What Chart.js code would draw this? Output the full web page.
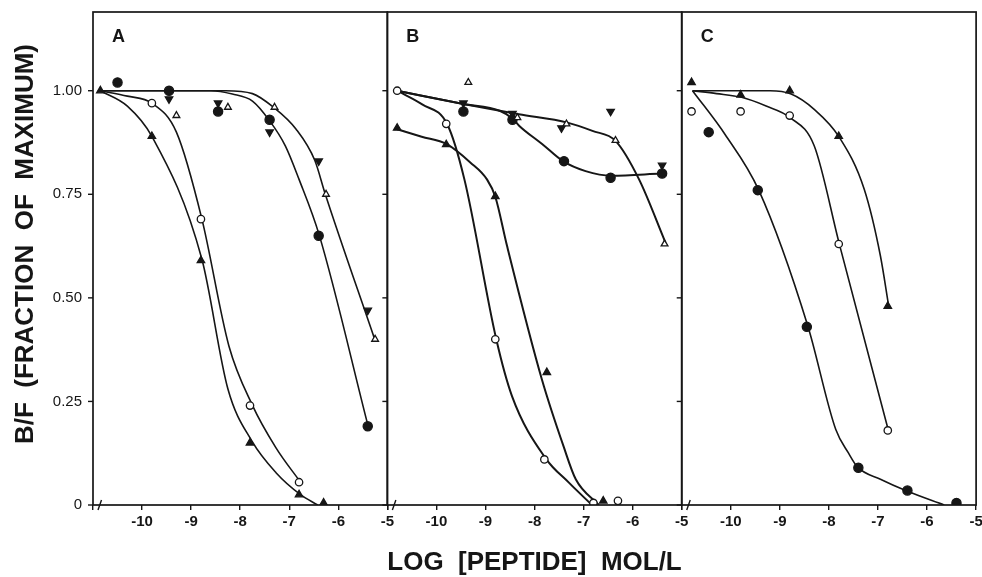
<!DOCTYPE html>
<html><head><meta charset="utf-8">
<script src="https://cdn.jsdelivr.net/npm/chart.js@4.4.0/dist/chart.umd.min.js"></script>
<style>html,body{margin:0;padding:0;background:#fff;} #wrap{position:relative;width:982px;height:577px;}</style>
</head><body><div id="wrap"><canvas id="c" width="982" height="577"></canvas></div>
<script>
// ---------- tick values / labels ----------
const panelNames = ['A', 'B', 'C'];
const xMin = -11, xMax = -5;
const xTickValues = [-11, -10, -9, -8, -7, -6, -5];
const yTickValues = [0, 0.25, 0.5, 0.75, 1.0];
const yTickLabels = ['0', '0.25', '0.50', '0.75', '1.00'];
const yMax = 1.19;
const yTitle = '    B/F  (FRACTION  OF  MAXIMUM)';
const xTitle = 'LOG  [PEPTIDE]  MOL/L';

// ---------- panel A: measured points [log conc, B/F] ----------
const A_filledTri   = [[-10.85,1.00],[-9.8,0.89],[-8.8,0.59],[-7.8,0.15],[-6.8,0.025],[-6.3,0.005]];
const A_openCircle  = [[-9.8,0.97],[-8.8,0.69],[-7.8,0.24],[-6.8,0.055]];
const A_filledCircle= [[-10.5,1.02],[-9.45,1.00],[-8.45,0.95],[-7.4,0.93],[-6.4,0.65],[-5.4,0.19]];
const A_invTri      = [[-9.45,0.98],[-8.45,0.97],[-7.4,0.90],[-6.4,0.83],[-5.4,0.47]];
const A_openTri     = [[-9.3,0.94],[-8.25,0.96],[-7.3,0.96],[-6.25,0.75],[-5.25,0.40]];
// panel A: hand-drawn curves (knots)
const A_curve1 = [[-10.85,1.0],[-10.3,0.963],[-9.8,0.89],[-8.78,0.593],[-8.25,0.28],[-7.76,0.154],[-7.27,0.078],[-6.77,0.025],[-6.42,0.0]];
const A_curve2 = [[-10.85,1.0],[-10.3,0.987],[-9.8,0.97],[-9.3,0.90],[-8.78,0.69],[-8.23,0.384],[-7.76,0.243],[-7.27,0.138],[-6.77,0.055]];
const A_curve3 = [[-10.85,1.0],[-8.6,1.0],[-8.16,0.992],[-7.75,0.975],[-7.41,0.929],[-7.08,0.867],[-6.80,0.786],[-6.39,0.652],[-5.40,0.194]];
const A_curve4 = [[-10.85,1.0],[-8.3,1.0],[-7.75,0.993],[-7.31,0.959],[-6.86,0.907],[-6.48,0.832],[-6.27,0.752],[-5.27,0.404]];

// ---------- panel B ----------
const B_openCircle  = [[-10.8,1.00],[-9.8,0.92],[-8.8,0.40],[-7.8,0.11],[-6.8,0.005],[-6.3,0.01]];
const B_filledTri   = [[-10.8,0.91],[-9.8,0.87],[-8.8,0.745],[-7.75,0.32],[-6.6,0.01]];
const B_openTri     = [[-9.35,1.02],[-8.35,0.935],[-7.35,0.92],[-6.35,0.88],[-5.35,0.63]];
const B_invTri      = [[-9.45,0.97],[-8.45,0.945],[-7.45,0.91],[-6.45,0.95],[-5.4,0.82]];
const B_filledCircle= [[-9.45,0.95],[-8.45,0.93],[-7.4,0.83],[-6.45,0.79],[-5.4,0.80]];
const B_curve1 = [[-10.8,1.0],[-9.45,0.968],[-8.32,0.943],[-7.33,0.923],[-6.82,0.903],[-6.35,0.879],[-5.87,0.786],[-5.33,0.633]];
const B_curve2 = [[-10.8,1.0],[-9.45,0.968],[-8.7,0.951],[-8.44,0.932],[-8.31,0.915],[-7.84,0.871],[-7.42,0.83],[-6.96,0.806],[-6.43,0.795],[-5.42,0.80]];
const B_curve3 = [[-10.8,1.0],[-10.29,0.967],[-9.78,0.919],[-9.43,0.786],[-8.78,0.40],[-8.46,0.263],[-7.77,0.112],[-7.3,0.054],[-6.83,0.0]];
const B_curve4 = [[-10.8,0.907],[-10.3,0.889],[-9.79,0.871],[-9.31,0.827],[-8.97,0.786],[-8.80,0.744],[-8.56,0.625],[-7.85,0.303],[-7.41,0.142],[-7.16,0.062],[-6.69,0.0]];

// ---------- panel C ----------
const C_filledTri   = [[-10.8,1.02],[-9.8,0.99],[-8.8,1.00],[-7.8,0.89],[-6.8,0.48]];
const C_openCircle  = [[-10.8,0.95],[-9.8,0.95],[-8.8,0.94],[-7.8,0.63],[-6.8,0.18]];
const C_filledCircle= [[-10.45,0.90],[-9.45,0.76],[-8.45,0.43],[-7.4,0.09],[-6.4,0.035],[-5.4,0.005]];
const C_curve1 = [[-10.78,1.0],[-10.12,0.895],[-9.43,0.76],[-8.43,0.432],[-7.86,0.182],[-7.6,0.125],[-7.42,0.092],[-6.95,0.062],[-6.40,0.033],[-5.65,0.0]];
const C_curve2 = [[-10.78,1.0],[-10.29,0.993],[-9.78,0.984],[-9.28,0.963],[-8.79,0.935],[-8.30,0.867],[-7.79,0.631],[-6.79,0.181]];
const C_curve3 = [[-10.78,1.0],[-9.2,1.0],[-8.77,0.992],[-8.30,0.955],[-7.79,0.888],[-7.28,0.762],[-6.95,0.601],[-6.78,0.479]];

// ---------- styling helpers ----------
const INK = '#161616';
const markerStyles = {
  filledCircle: {pointStyle:'circle', radius:4.6, fill:INK, rot:0},
  openCircle:   {pointStyle:'circle', radius:3.7, fill:'#fff', rot:0},
  filledTri:    {pointStyle:'triangle', radius:4.3, fill:INK, rot:0},
  openTri:      {pointStyle:'triangle', radius:3.9, fill:'#fff', rot:0},
  invTri:       {pointStyle:'triangle', radius:4.3, fill:INK, rot:180}
};
const toXY = arr => arr.map(p => ({x: p[0], y: p[1]}));
function markers(arr, axis, kind) {
  const s = markerStyles[kind];
  return {type:'line', data: toXY(arr), xAxisID: axis, showLine:false, order:0,
    pointStyle:s.pointStyle, pointRadius:s.radius, pointRotation:s.rot,
    pointBackgroundColor:s.fill, pointBorderColor:INK, pointBorderWidth:1.3, pointHoverRadius:s.radius};
}
function curve(arr, axis, w) {
  return {type:'line', data: toXY(arr), xAxisID: axis, showLine:true, order:1,
    borderColor:INK, borderWidth:w, pointRadius:0, pointHoverRadius:0, fill:false,
    cubicInterpolationMode:'monotone'};
}

const datasets = [
  markers(A_filledTri,'xA','filledTri'), markers(A_openCircle,'xA','openCircle'),
  markers(A_filledCircle,'xA','filledCircle'), markers(A_invTri,'xA','invTri'), markers(A_openTri,'xA','openTri'),
  curve(A_curve1,'xA',1.6), curve(A_curve2,'xA',1.6), curve(A_curve3,'xA',1.6), curve(A_curve4,'xA',1.6),
  markers(B_openCircle,'xB','openCircle'), markers(B_filledTri,'xB','filledTri'), markers(B_openTri,'xB','openTri'),
  markers(B_invTri,'xB','invTri'), markers(B_filledCircle,'xB','filledCircle'),
  curve(B_curve1,'xB',2), curve(B_curve2,'xB',2), curve(B_curve3,'xB',2), curve(B_curve4,'xB',2),
  markers(C_filledTri,'xC','filledTri'), markers(C_openCircle,'xC','openCircle'), markers(C_filledCircle,'xC','filledCircle'),
  curve(C_curve1,'xC',1.6), curve(C_curve2,'xC',1.6), curve(C_curve3,'xC',1.6)
];

const FONT = '"Liberation Sans", Arial, Helvetica, sans-serif';
function xAxis(withTitle) {
  return {
    type:'linear', position:'bottom', stack:'panels', stackWeight:1,
    min:xMin, max:xMax,
    afterBuildTicks: s => { s.ticks = xTickValues.map(v => ({value:v})); },
    afterFit: s => { s.height = 72; s.paddingLeft = 0; s.paddingRight = 0; },
    grid:{display:true, drawOnChartArea:false, drawTicks:true, tickLength:5, color:INK, lineWidth:1.4},
    border:{display:false},
    ticks:{color:INK, padding:3, maxRotation:0, autoSkip:false,
      font:{family:FONT, size:15, weight:'bold'},
      callback: v => (v === xMin ? '' : String(v))},
    title:{display:withTitle, text:xTitle, color:INK, padding:{top:0,bottom:1},
      font:{family:FONT, size:26, weight:'bold', lineHeight:1.0}}
  };
}

const panelDecor = {
  id:'panelDecor',
  afterDraw(chart) {
    const ctx = chart.ctx, ca = chart.chartArea, ys = chart.scales.y;
    ctx.save();
    ctx.strokeStyle = INK; ctx.fillStyle = INK;
    ['xA','xB','xC'].forEach((id, i) => {
      const s = chart.scales[id];
      const l = s.getPixelForValue(xMin), r = s.getPixelForValue(xMax);
      ctx.lineWidth = 1.7;
      ctx.strokeRect(l, ca.top, r - l, ca.bottom - ca.top);
      ctx.lineWidth = 1.4;
      yTickValues.forEach(v => {
        const py = ys.getPixelForValue(v);
        ctx.beginPath(); ctx.moveTo(l - 5, py); ctx.lineTo(l, py); ctx.stroke();
      });
      const bx = l + 7;
      ctx.beginPath(); ctx.moveTo(bx - 2, ca.bottom + 5); ctx.lineTo(bx + 1.5, ca.bottom - 5); ctx.stroke();
      ctx.font = 'bold 18px ' + FONT; ctx.textAlign = 'left'; ctx.textBaseline = 'alphabetic';
      ctx.fillText(panelNames[i], l + 19, ca.top + 30);
    });
    ctx.restore();
  }
};

new Chart(document.getElementById('c'), {
  type:'line',
  data:{datasets},
  options:{
    responsive:false, animation:false, devicePixelRatio:1,
    layout:{padding:{top:12, right:3, bottom:0, left:0}},
    plugins:{legend:{display:false}, tooltip:{enabled:false}},
    elements:{line:{tension:0}},
    scales:{
      xA: xAxis(false),
      xB: xAxis(true),
      xC: xAxis(false),
      y:{type:'linear', position:'left', min:0, max:yMax,
        afterBuildTicks: s => { s.ticks = yTickValues.map(v => ({value:v})); },
        afterFit: s => { s.width = 93; s.paddingTop = 0; s.paddingBottom = 0; },
        grid:{display:false, drawTicks:false},
        border:{display:false},
        ticks:{color:INK, padding:11, font:{family:FONT, size:15},
          callback: v => { const k = yTickValues.indexOf(v); return k >= 0 ? yTickLabels[k] : ''; }},
        title:{display:true, text:yTitle, color:INK, padding:{top:10,bottom:0},
          font:{family:FONT, size:26, weight:'bold'}}
      }
    }
  },
  plugins:[panelDecor]
});
</script></body></html>
